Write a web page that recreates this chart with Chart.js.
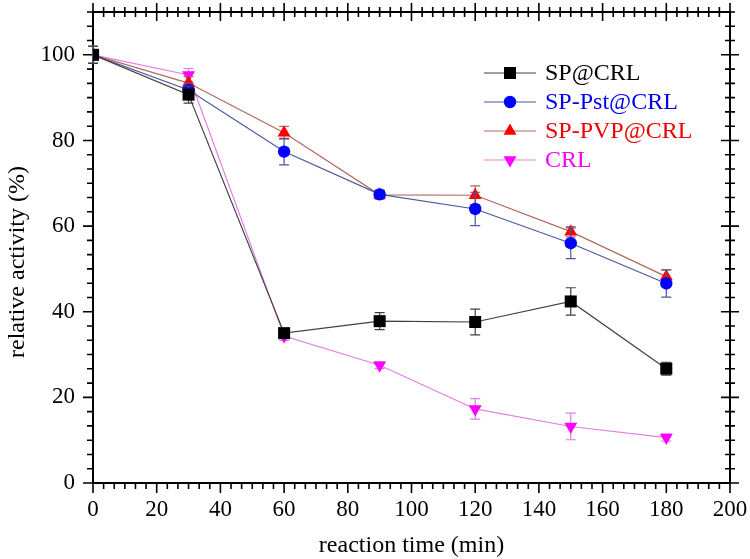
<!DOCTYPE html>
<html lang="en">
<head>
<meta charset="UTF-8">
<title>Relative activity vs reaction time</title>
<style>
  html, body { margin: 0; padding: 0; background: #fff; }
  #wrap { width: 750px; height: 559px; }
</style>
</head>
<body>
<div id="wrap"><canvas id="activityChart" width="750" height="559"></canvas></div>
<script src="https://cdn.jsdelivr.net/npm/chart.js"></script>
<script>
// data
const times = [0, 30, 60, 90, 120, 150, 180];
const seriesNames = ['SP@CRL', 'SP-Pst@CRL', 'SP-PVP@CRL', 'CRL'];
const spCrl = [100, 90.7, 35.0, 37.8, 37.6, 42.4, 26.7];
const spCrlErr = [2.0, 2.0, 1.0, 2.0, 3.0, 3.2, 1.5];
const spPstCrl = [100, 91.8, 77.4, 67.4, 64.0, 56.0, 46.6];
const spPstCrlErr = [2.0, 1.5, 3.1, 1.0, 3.9, 3.6, 3.2];
const spPvpCrl = [100, 93.4, 81.8, 67.3, 67.2, 58.7, 48.2];
const spPvpCrlErr = [2.0, 1.5, 1.5, 1.0, 2.2, 1.2, 1.5];
const crl = [100, 95.3, 34.3, 27.5, 17.3, 13.2, 10.6];
const crlErr = [2.0, 1.5, 1.0, 0.8, 2.4, 3.1, 0.8];
const xTicks = [0, 20, 40, 60, 80, 100, 120, 140, 160, 180, 200];
const yTicks = [0, 20, 40, 60, 80, 100];

const serif = "'Liberation Serif', 'Times New Roman', serif";

function pts(vals) {
  return vals.map((v, i) => ({ x: times[i], y: v }));
}

function makeSet(label, vals, errs, marker, line, style, radius, rotation) {
  return {
    label: label,
    data: pts(vals),
    errors: errs,
    borderColor: line,
    borderWidth: 1.2,
    backgroundColor: marker,
    pointBackgroundColor: marker,
    pointBorderColor: marker,
    pointBorderWidth: 0,
    pointStyle: style,
    pointRadius: radius,
    pointHoverRadius: radius,
    pointRotation: rotation || 0,
    tension: 0,
    fill: false
  };
}

// error bars, drawn just before each dataset so markers sit on top
const errorBars = {
  id: 'errorBars',
  beforeDatasetDraw(chart, args) {
    const ds = chart.data.datasets[args.index];
    const y = chart.scales.y;
    const ctx = chart.ctx;
    ctx.save();
    ctx.strokeStyle = ds.borderColor;
    ctx.lineWidth = 1.2;
    args.meta.data.forEach((el, i) => {
      const e = ds.errors[i];
      const v = ds.data[i].y;
      const top = y.getPixelForValue(v + e);
      const bot = y.getPixelForValue(v - e);
      ctx.beginPath();
      ctx.moveTo(el.x, top); ctx.lineTo(el.x, bot);
      ctx.moveTo(el.x - 5, top); ctx.lineTo(el.x + 5, top);
      ctx.moveTo(el.x - 5, bot); ctx.lineTo(el.x + 5, bot);
      ctx.stroke();
    });
    ctx.restore();
  }
};

// box frame with minor/major ticks on all four sides
const frameTicks = {
  id: 'frameTicks',
  beforeDatasetsDraw(chart) {
    const { ctx, chartArea: a, scales: { x, y } } = chart;
    ctx.save();
    ctx.strokeStyle = '#000';
    ctx.lineWidth = 2;
    ctx.strokeRect(a.left, a.top, a.right - a.left, a.bottom - a.top);
    ctx.lineWidth = 1.6;
    ctx.beginPath();
    for (let i = 0; i <= 60; i++) {
      const px = x.getPixelForValue(i * 20 / 6);
      const major = i % 6 === 0;
      // bottom: outward
      ctx.moveTo(px, a.bottom); ctx.lineTo(px, a.bottom + (major ? 10 : 6));
      // top: crossing
      const t = major ? 9 : 5;
      ctx.moveTo(px, a.top - t); ctx.lineTo(px, a.top + t);
    }
    for (let i = 0; i <= 33; i++) {
      const py = y.getPixelForValue(i * 20 / 6);
      const major = i % 6 === 0;
      // left: outward
      ctx.moveTo(a.left, py); ctx.lineTo(a.left - (major ? 10 : 6), py);
      // right: crossing
      const t = major ? 9 : 5;
      ctx.moveTo(a.right - t, py); ctx.lineTo(a.right + t, py);
    }
    ctx.stroke();
    ctx.restore();
  }
};

// y axis title, sits a little below the plot centre in the original
const yTitle = {
  id: 'yTitle',
  afterDraw(chart) {
    const ctx = chart.ctx;
    ctx.save();
    ctx.translate(18, 262);
    ctx.rotate(-Math.PI / 2);
    ctx.fillStyle = '#000';
    ctx.font = '24px ' + serif;
    ctx.textAlign = 'center';
    ctx.textBaseline = 'middle';
    ctx.fillText('relative activity (%)', 0, 0);
    ctx.restore();
  }
};

// legend inside the plot, text coloured like the markers
const insideLegend = {
  id: 'insideLegend',
  afterDraw(chart) {
    const ctx = chart.ctx;
    const textColors = ['#000000', '#0000ee', '#ee0000', '#ff00ff'];
    const rows = [73, 102, 131, 160];
    ctx.save();
    chart.data.datasets.forEach((ds, i) => {
      const yy = rows[i];
      ctx.strokeStyle = ds.borderColor;
      ctx.lineWidth = 1.2;
      ctx.beginPath();
      ctx.moveTo(484, yy); ctx.lineTo(536, yy);
      ctx.stroke();
      ctx.fillStyle = ds.pointBackgroundColor;
      ctx.strokeStyle = ds.pointBackgroundColor;
      Chart.helpers.drawPoint(ctx, {
        pointStyle: ds.pointStyle,
        radius: ds.pointRadius,
        rotation: ds.pointRotation,
        borderWidth: 0
      }, 510, yy);
      ctx.fillStyle = textColors[i];
      ctx.font = '24px ' + serif;
      ctx.textBaseline = 'middle';
      ctx.textAlign = 'left';
      ctx.fillText(ds.label, 545, yy + 1);
    });
    ctx.restore();
  }
};

function noEdgePadding(s) {
  s.paddingTop = 0;
  s.paddingBottom = 0;
  s.paddingLeft = 0;
  s.paddingRight = 0;
}

const ctx = document.getElementById('activityChart').getContext('2d');
const activityChart = new Chart(ctx, {
  type: 'line',
  data: {
    datasets: [
      makeSet(seriesNames[0], spCrl, spCrlErr, '#000000', '#404040', 'rect', 8.5),
      makeSet(seriesNames[1], spPstCrl, spPstCrlErr, '#0000ff', '#4a5a9e', 'circle', 6.2),
      makeSet(seriesNames[2], spPvpCrl, spPvpCrlErr, '#ff0000', '#b06a5e', 'triangle', 7.5),
      makeSet(seriesNames[3], crl, crlErr, '#ff00ff', '#e27ee2', 'triangle', 7.5, 180)
    ]
  },
  options: {
    responsive: false,
    animation: false,
    devicePixelRatio: 1,
    layout: { padding: { top: 12, right: 20, left: 0, bottom: 0 } },
    plugins: {
      legend: { display: false },
      tooltip: { enabled: false }
    },
    scales: {
      x: {
        type: 'linear',
        min: 0,
        max: 200,
        afterFit: s => { s.height = 76; noEdgePadding(s); },
        afterBuildTicks: s => { s.ticks = xTicks.map(v => ({ value: v })); },
        grid: { display: false, drawTicks: false },
        border: { display: false },
        ticks: {
          color: '#000',
          padding: 13,
          maxRotation: 0,
          font: { family: serif, size: 23 }
        },
        title: {
          display: true,
          text: 'reaction time (min)',
          color: '#000',
          font: { family: serif, size: 24, lineHeight: 1 },
          padding: { top: 0, bottom: 1 }
        }
      },
      y: {
        min: 0,
        max: 110,
        afterFit: s => { s.width = 93; noEdgePadding(s); },
        afterBuildTicks: s => { s.ticks = yTicks.map(v => ({ value: v })); },
        grid: { display: false, drawTicks: false },
        border: { display: false },
        ticks: {
          color: '#000',
          padding: 18,
          font: { family: serif, size: 23 }
        },
        title: { display: false }
      }
    }
  },
  plugins: [frameTicks, errorBars, yTitle, insideLegend]
});
</script>
</body>
</html>
